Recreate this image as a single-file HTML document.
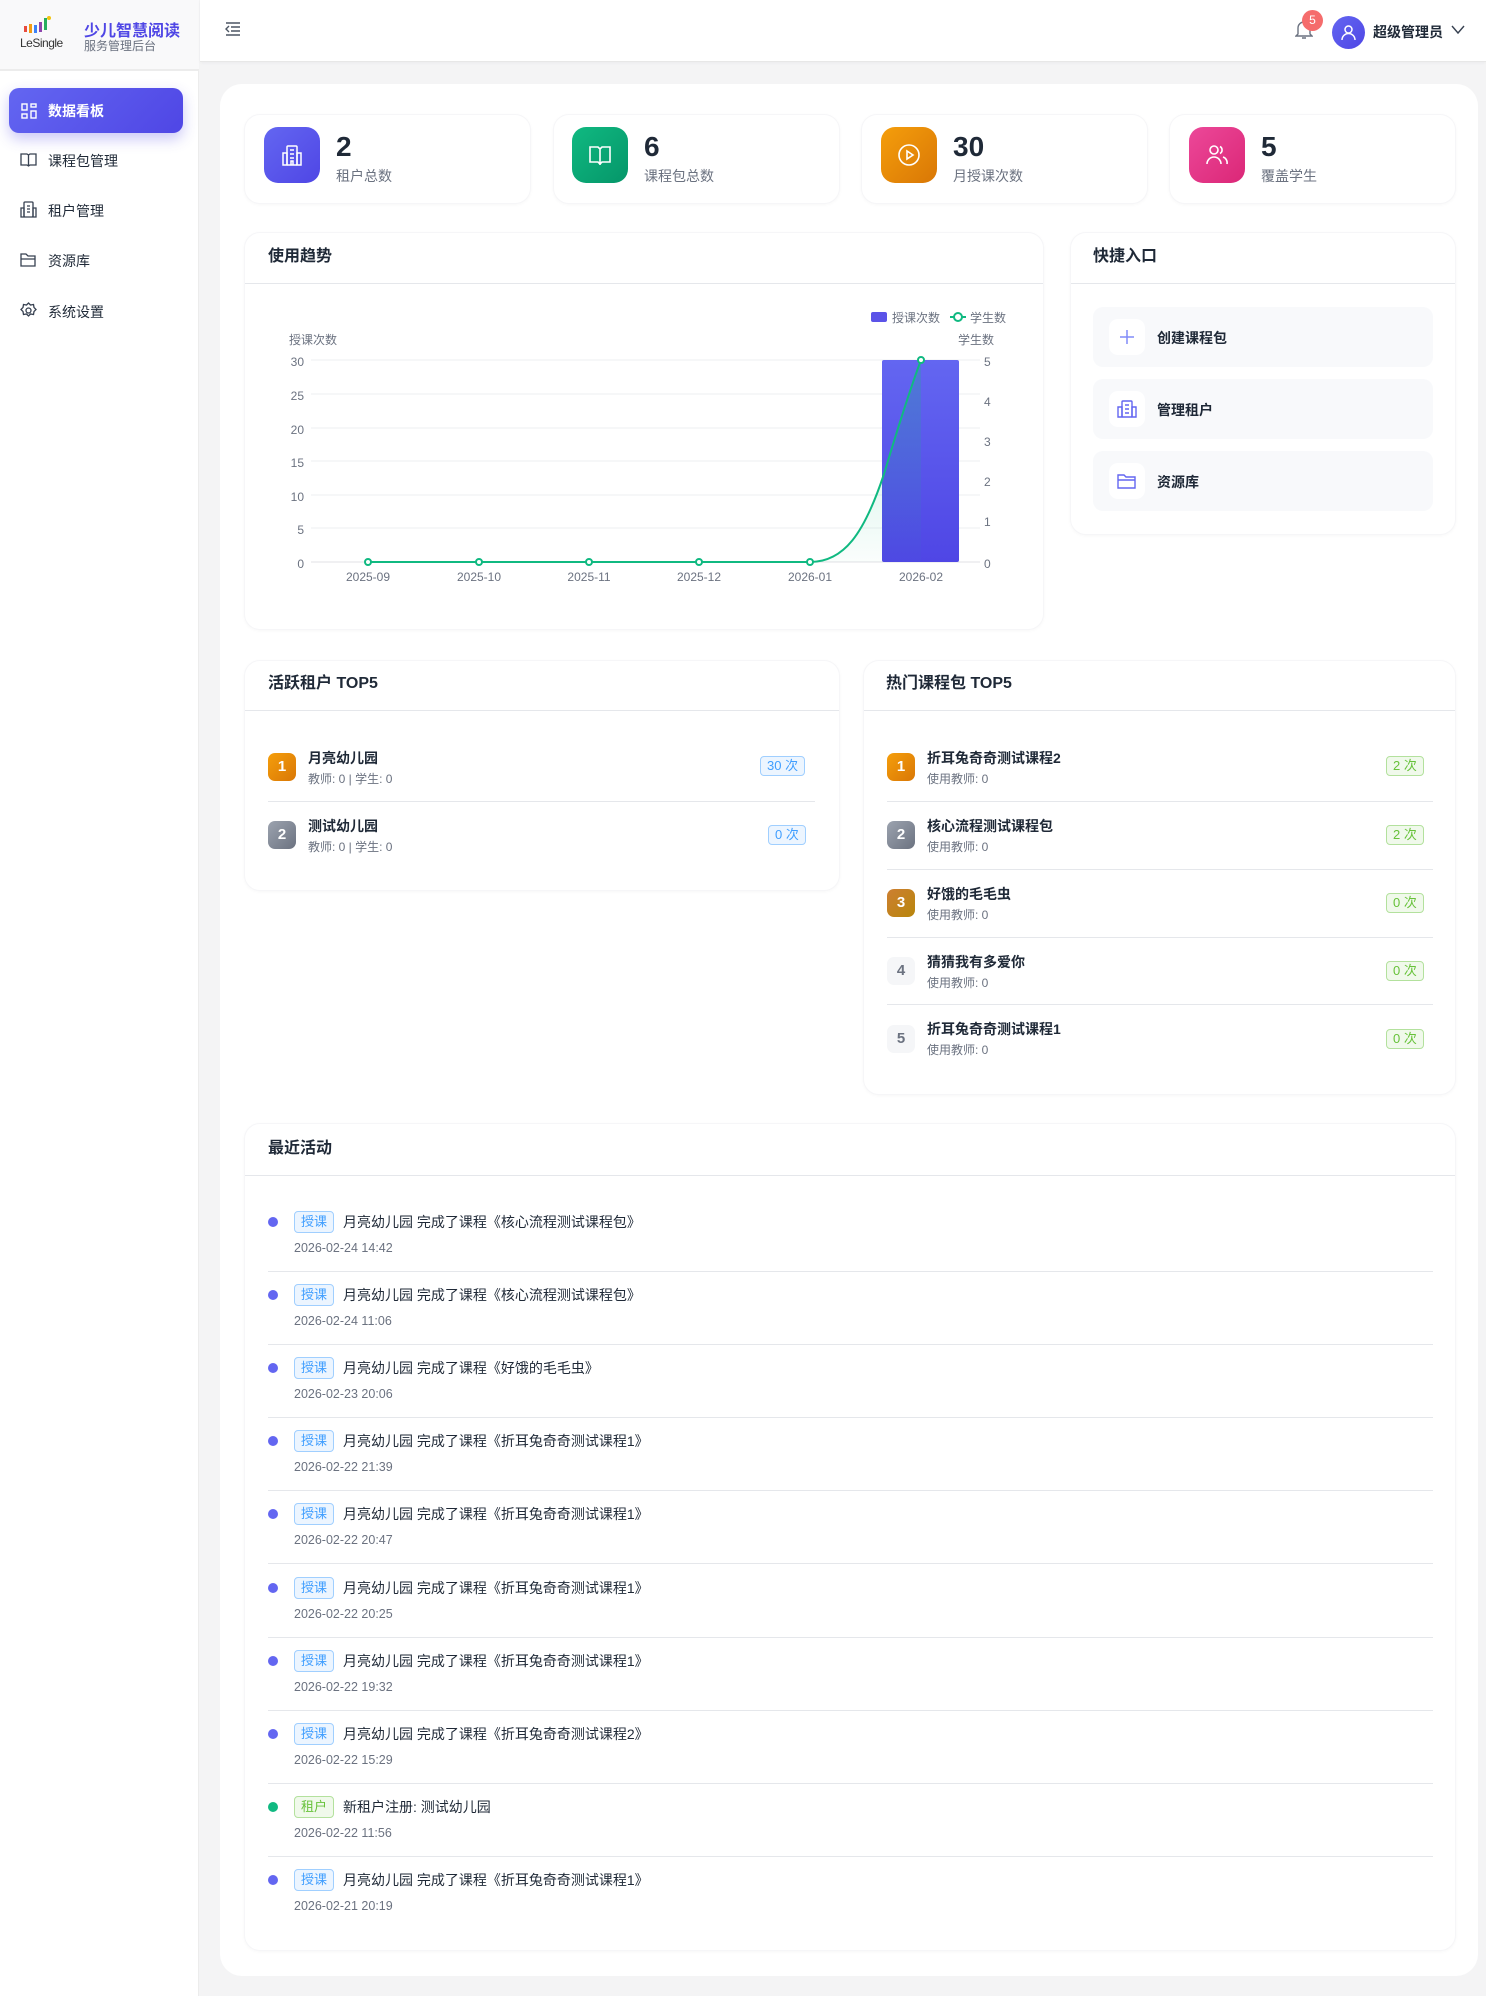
<!DOCTYPE html>
<html><head><meta charset="utf-8"><style>
*{margin:0;padding:0;box-sizing:border-box}
body{width:1486px;height:1996px;background:#f4f4f5;font-family:"Liberation Sans","Noto Sans CJK SC",sans-serif;color:#1f2937;position:relative;overflow:hidden}
.a{position:absolute}
.card{position:absolute;background:#fff;border-radius:16px;box-shadow:0 1px 3px rgba(0,0,0,.03);border:1px solid #f6f6f8}
.t{position:absolute;white-space:nowrap}
.ttl{position:absolute;font-size:16px;font-weight:bold;color:#1f2937}
.hr{position:absolute;height:1px;background:#e5e7eb}
.rk{position:absolute;width:28px;height:28px;border-radius:7px;color:#fff;font-size:15px;font-weight:bold;text-align:center;line-height:28px}
.tag{position:absolute;height:20px;border-radius:4px;font-size:13px;line-height:18px;padding:0 6px}
.bl{background:#ecf5ff;border:1px solid #a0cfff;color:#409eff}
.gr{background:#f0f9eb;border:1px solid #b3e19d;color:#67c23a}
.nm{font-size:14px;color:#1f2937;font-weight:bold}
.sub{font-size:12px;color:#6b7280}
</style></head><body>
<!-- sidebar -->
<div class="a" style="left:0;top:0;width:199px;height:1996px;background:#fff;border-right:1px solid #ececec"></div>
<div class="a" style="left:0;top:0;width:199px;height:71px;background:#f9f9fa;border-bottom:2px solid #ececec"></div>
<svg class="a" style="left:22px;top:14px" width="30" height="22"><rect x="2" y="12" width="3" height="6" fill="#e84c3d"/><rect x="7" y="10" width="3" height="9" fill="#f39c12"/><rect x="12" y="11" width="3" height="8" fill="#3b82f6"/><rect x="17" y="8" width="3" height="10" fill="#8e44ad"/><rect x="22" y="4" width="3" height="12" fill="#27ae60"/><circle cx="27" cy="4" r="2" fill="#f1c40f"/></svg>
<div class="t" style="left:20px;top:36px;font-size:12px;color:#333;letter-spacing:-.5px">LeSingle</div>
<div class="t" style="left:84px;top:17px;font-size:16px;color:#4f46e5;font-weight:bold">少儿智慧阅读</div>
<div class="t" style="left:84px;top:37px;font-size:12px;color:#6b7280">服务管理后台</div>
<div class="a" style="left:9px;top:88px;width:174px;height:45px;border-radius:10px;background:linear-gradient(135deg,#6366f1,#4f46e5);box-shadow:0 6px 14px rgba(79,70,229,.3)"></div>
<svg class="a" style="left:21px;top:103px" width="16" height="16" fill="none" stroke="#fff" stroke-width="1.4"><rect x="1" y="1" width="5" height="6"/><rect x="10" y="1" width="5" height="3"/><rect x="10" y="8" width="5" height="7"/><rect x="1" y="11" width="5" height="4"/></svg>
<div class="t" style="left:48px;top:101px;font-size:14px;color:#fff;font-weight:bold">数据看板</div>
<svg class="a" style="left:20px;top:152px" width="17" height="16" fill="none" stroke="#374151" stroke-width="1.3"><path d="M1 2h6l1.5 1 1.5-1h6v11h-6l-1.5 1-1.5-1h-6z M8.5 3v11"/></svg>
<div class="t" style="left:48px;top:151px;font-size:14px;color:#1f2937">课程包管理</div>
<svg class="a" style="left:20px;top:201px" width="17" height="17" fill="none" stroke="#374151" stroke-width="1.3"><rect x="4" y="1" width="9" height="15" rx="1"/><path d="M1 7h3v9H1zM13 7h3v9h-3z M7 5h3M7 8h3M7 11h3"/></svg>
<div class="t" style="left:48px;top:201px;font-size:14px;color:#1f2937">租户管理</div>
<svg class="a" style="left:20px;top:252px" width="17" height="16" fill="none" stroke="#374151" stroke-width="1.3"><path d="M1 2h5l2 2h7v10H1z M1 7h14"/></svg>
<div class="t" style="left:48px;top:251px;font-size:14px;color:#1f2937">资源库</div>
<svg class="a" style="left:20px;top:302px" width="17" height="17" fill="none" stroke="#374151" stroke-width="1.3"><circle cx="8.5" cy="8.5" r="2.5"/><path d="M8.5 1l2 2 3-.5.5 3 2 2-2 2-.5 3-3-.5-2 2-2-2-3 .5-.5-3-2-2 2-2 .5-3 3 .5z"/></svg>
<div class="t" style="left:48px;top:302px;font-size:14px;color:#1f2937">系统设置</div>
<!-- header -->
<div class="a" style="left:200px;top:0;width:1286px;height:62px;background:#fff;border-bottom:1px solid #e7e7e7;box-shadow:0 1px 3px rgba(0,0,0,.04)"></div>
<svg class="a" style="left:225px;top:22px" width="16" height="14" fill="none" stroke="#4b5563" stroke-width="1.4"><path d="M1 1h14M6 5h9M6 9h9M1 13h14M4 4L1 7l3 3"/></svg>
<svg class="a" style="left:1295px;top:20px" width="18" height="20" fill="none" stroke="#6b7280" stroke-width="1.4"><path d="M3 14V8a6 6 0 0 1 12 0v6l2 2H1z M7 18h4"/></svg>
<div class="a" style="left:1302px;top:10px;width:21px;height:21px;border-radius:50%;background:#f56c6c;color:#fff;font-size:12px;text-align:center;line-height:21px">5</div>
<div class="a" style="left:1332px;top:16px;width:33px;height:33px;border-radius:50%;background:linear-gradient(135deg,#6366f1,#4f46e5)"></div>
<svg class="a" style="left:1340px;top:24px" width="17" height="17" fill="none" stroke="#fff" stroke-width="1.5"><circle cx="8.5" cy="5.5" r="3.5"/><path d="M2 16a6.5 6.5 0 0 1 13 0"/></svg>
<div class="t" style="left:1373px;top:22px;font-size:14px;color:#1f2937;font-weight:bold">超级管理员</div>
<svg class="a" style="left:1451px;top:25px" width="14" height="10" fill="none" stroke="#374151" stroke-width="1.4"><path d="M1 1l6 7 6-7"/></svg>
<!-- main -->
<div class="a" style="left:220px;top:84px;width:1258px;height:1892px;background:#fff;border-radius:22px"></div>
<!-- stat cards -->
<div class="card" style="left:244px;top:114px;width:287px;height:90px"></div>
<div class="card" style="left:553px;top:114px;width:287px;height:90px"></div>
<div class="card" style="left:861px;top:114px;width:287px;height:90px"></div>
<div class="card" style="left:1169px;top:114px;width:287px;height:90px"></div>
<div class="a" style="left:264px;top:127px;width:56px;height:56px;border-radius:14px;background:linear-gradient(135deg,#6366f1,#4f46e5)"></div>
<svg class="a" style="left:281px;top:144px" width="22" height="22" fill="none" stroke="#fff" stroke-width="1.5"><rect x="6" y="2" width="10" height="19" rx="1"/><path d="M2 9h4v12H2zM16 9h4v12h-4zM9 6h4M9 10h4M9 14h4M10 21v-4h2v4"/></svg>
<div class="a" style="left:572px;top:127px;width:56px;height:56px;border-radius:14px;background:linear-gradient(135deg,#10b981,#059669)"></div>
<svg class="a" style="left:588px;top:145px" width="24" height="22" fill="none" stroke="#fff" stroke-width="1.6"><path d="M2 2h8l2 2 2-2h8v15h-8l-2 2-2-2H2z M12 4v16"/></svg>
<div class="a" style="left:881px;top:127px;width:56px;height:56px;border-radius:14px;background:linear-gradient(135deg,#f59e0b,#d97706)"></div>
<svg class="a" style="left:897px;top:143px" width="24" height="24" fill="none" stroke="#fff" stroke-width="1.6"><circle cx="12" cy="12" r="10"/><path d="M10 8l6 4-6 4z"/></svg>
<div class="a" style="left:1189px;top:127px;width:56px;height:56px;border-radius:14px;background:linear-gradient(135deg,#ec4899,#db2777)"></div>
<svg class="a" style="left:1205px;top:144px" width="24" height="22" fill="none" stroke="#fff" stroke-width="1.6"><circle cx="9" cy="6" r="4"/><path d="M2 20a7 7 0 0 1 14 0M15 2.5a4 4 0 0 1 0 7M18 13a6 6 0 0 1 4 7"/></svg>
<div class="t" style="left:336px;top:131px;font-size:28px;font-weight:bold;color:#1f2937">2</div>
<div class="t" style="left:336px;top:166px;font-size:14px;color:#6b7280">租户总数</div>
<div class="t" style="left:644px;top:131px;font-size:28px;font-weight:bold;color:#1f2937">6</div>
<div class="t" style="left:644px;top:166px;font-size:14px;color:#6b7280">课程包总数</div>
<div class="t" style="left:953px;top:131px;font-size:28px;font-weight:bold;color:#1f2937">30</div>
<div class="t" style="left:953px;top:166px;font-size:14px;color:#6b7280">月授课次数</div>
<div class="t" style="left:1261px;top:131px;font-size:28px;font-weight:bold;color:#1f2937">5</div>
<div class="t" style="left:1261px;top:166px;font-size:14px;color:#6b7280">覆盖学生</div>
<!-- trend -->
<div class="card" style="left:244px;top:232px;width:800px;height:398px"></div>
<div class="ttl" style="left:268px;top:242px">使用趋势</div>
<div class="hr" style="left:245px;top:283px;width:798px"></div>
<svg class="a" style="left:244px;top:284px" width="800" height="340" font-family="Liberation Sans, Noto Sans CJK SC, sans-serif" font-size="12" fill="#6b7280">
<defs><linearGradient id="bg" x1="0" y1="0" x2="0" y2="1"><stop offset="0" stop-color="#6366f1"/><stop offset="1" stop-color="#4f46e5"/></linearGradient>
<linearGradient id="ag" x1="0" y1="0" x2="0" y2="1"><stop offset="0" stop-color="#10b981" stop-opacity=".25"/><stop offset="1" stop-color="#10b981" stop-opacity=".02"/></linearGradient></defs>
<g stroke="#eeeff2" stroke-width="1">
<line x1="67" y1="76" x2="736" y2="76"/><line x1="67" y1="110" x2="736" y2="110"/><line x1="67" y1="144" x2="736" y2="144"/><line x1="67" y1="177" x2="736" y2="177"/><line x1="67" y1="211" x2="736" y2="211"/><line x1="67" y1="244" x2="736" y2="244"/></g>
<line x1="67" y1="278" x2="736" y2="278" stroke="#e0e0e4"/>
<g text-anchor="end"><text x="60" y="82">30</text><text x="60" y="116">25</text><text x="60" y="150">20</text><text x="60" y="183">15</text><text x="60" y="217">10</text><text x="60" y="250">5</text><text x="60" y="284">0</text></g>
<g><text x="740" y="82">5</text><text x="740" y="122">4</text><text x="740" y="162">3</text><text x="740" y="202">2</text><text x="740" y="242">1</text><text x="740" y="284">0</text></g>
<text x="45" y="60">授课次数</text><text x="714" y="60">学生数</text>
<g text-anchor="middle"><text x="124" y="297">2025-09</text><text x="235" y="297">2025-10</text><text x="345" y="297">2025-11</text><text x="455" y="297">2025-12</text><text x="566" y="297">2026-01</text><text x="677" y="297">2026-02</text></g>
<rect x="638" y="76" width="77" height="202" rx="2" fill="url(#bg)"/>
<path d="M566 278 C600 278 620 250 640 190 C655 140 668 100 677 76 L677 278 Z" fill="url(#ag)"/>
<path d="M124 278 L566 278 C600 278 620 250 640 190 C655 140 668 100 677 76" fill="none" stroke="#10b981" stroke-width="2"/>
<g fill="#fff" stroke="#10b981" stroke-width="2"><circle cx="124" cy="278" r="3"/><circle cx="235" cy="278" r="3"/><circle cx="345" cy="278" r="3"/><circle cx="455" cy="278" r="3"/><circle cx="566" cy="278" r="3"/><circle cx="677" cy="76" r="3"/></g>
<rect x="627" y="28" width="16" height="10" rx="2" fill="#5b53e8"/><text x="648" y="38">授课次数</text>
<line x1="706" y1="33" x2="722" y2="33" stroke="#10b981" stroke-width="2"/><circle cx="714" cy="33" r="4" fill="#fff" stroke="#10b981" stroke-width="2"/><text x="726" y="38">学生数</text>
</svg>
<!-- quick -->
<div class="card" style="left:1070px;top:232px;width:386px;height:303px"></div>
<div class="ttl" style="left:1093px;top:242px">快捷入口</div>
<div class="hr" style="left:1071px;top:283px;width:384px"></div>
<div class="a" style="left:1093px;top:307px;width:340px;height:60px;border-radius:10px;background:#f8f9fb"></div>
<div class="a" style="left:1093px;top:379px;width:340px;height:60px;border-radius:10px;background:#f8f9fb"></div>
<div class="a" style="left:1093px;top:451px;width:340px;height:60px;border-radius:10px;background:#f8f9fb"></div>
<div class="a" style="left:1109px;top:319px;width:36px;height:36px;border-radius:9px;background:#fff"></div>
<div class="a" style="left:1109px;top:391px;width:36px;height:36px;border-radius:9px;background:#fff"></div>
<div class="a" style="left:1109px;top:463px;width:36px;height:36px;border-radius:9px;background:#fff"></div>
<svg class="a" style="left:1119px;top:329px" width="16" height="16" stroke="#818cf8" stroke-width="1.5"><path d="M8 1v14M1 8h14"/></svg>
<svg class="a" style="left:1117px;top:400px" width="20" height="18" fill="none" stroke="#6366f1" stroke-width="1.4"><rect x="5" y="1" width="10" height="16" rx="1"/><path d="M1 7h4v10H1zM15 7h4v10h-4zM8 5h4M8 9h4M8 13h4"/></svg>
<svg class="a" style="left:1117px;top:473px" width="20" height="17" fill="none" stroke="#6366f1" stroke-width="1.4"><path d="M1 2h6l2 2h9v11H1z M1 7h17"/></svg>
<div class="t" style="left:1157px;top:328px;font-size:14px;color:#1f2937;font-weight:bold">创建课程包</div>
<div class="t" style="left:1157px;top:400px;font-size:14px;color:#1f2937;font-weight:bold">管理租户</div>
<div class="t" style="left:1157px;top:472px;font-size:14px;color:#1f2937;font-weight:bold">资源库</div>
<!-- active tenants -->
<div class="card" style="left:244px;top:660px;width:596px;height:231px"></div>
<div class="ttl" style="left:268px;top:669px">活跃租户 TOP5</div>
<div class="hr" style="left:245px;top:710px;width:594px"></div>
<div class="rk" style="left:268px;top:753px;background:linear-gradient(135deg,#f59e0b,#d97706)">1</div>
<div class="t nm" style="left:308px;top:748px">月亮幼儿园</div>
<div class="t sub" style="left:308px;top:770px">教师: 0 | 学生: 0</div>
<div class="tag bl" style="left:760px;top:756px">30 次</div>
<div class="hr" style="left:268px;top:801px;width:547px"></div>
<div class="rk" style="left:268px;top:821px;background:linear-gradient(135deg,#9ca3af,#6b7280)">2</div>
<div class="t nm" style="left:308px;top:816px">测试幼儿园</div>
<div class="t sub" style="left:308px;top:838px">教师: 0 | 学生: 0</div>
<div class="tag bl" style="left:768px;top:825px">0 次</div>
<!-- hot courses -->
<div class="card" style="left:863px;top:660px;width:593px;height:435px"></div>
<div class="ttl" style="left:886px;top:669px">热门课程包 TOP5</div>
<div class="hr" style="left:864px;top:710px;width:591px"></div>
<div class="rk" style="left:887px;top:753px;background:linear-gradient(135deg,#f59e0b,#d97706)">1</div>
<div class="t nm" style="left:927px;top:748px">折耳兔奇奇测试课程2</div>
<div class="t sub" style="left:927px;top:770px">使用教师: 0</div>
<div class="tag gr" style="left:1386px;top:756px">2 次</div>
<div class="hr" style="left:887px;top:801px;width:546px"></div>
<div class="rk" style="left:887px;top:821px;background:linear-gradient(135deg,#9ca3af,#6b7280)">2</div>
<div class="t nm" style="left:927px;top:816px">核心流程测试课程包</div>
<div class="t sub" style="left:927px;top:838px">使用教师: 0</div>
<div class="tag gr" style="left:1386px;top:825px">2 次</div>
<div class="hr" style="left:887px;top:869px;width:546px"></div>
<div class="rk" style="left:887px;top:889px;background:linear-gradient(135deg,#cd7f32,#b8860b)">3</div>
<div class="t nm" style="left:927px;top:884px">好饿的毛毛虫</div>
<div class="t sub" style="left:927px;top:906px">使用教师: 0</div>
<div class="tag gr" style="left:1386px;top:893px">0 次</div>
<div class="hr" style="left:887px;top:937px;width:546px"></div>
<div class="rk" style="left:887px;top:957px;background:#f5f6f8;color:#6b7280">4</div>
<div class="t nm" style="left:927px;top:952px">猜猜我有多爱你</div>
<div class="t sub" style="left:927px;top:974px">使用教师: 0</div>
<div class="tag gr" style="left:1386px;top:961px">0 次</div>
<div class="hr" style="left:887px;top:1004px;width:546px"></div>
<div class="rk" style="left:887px;top:1025px;background:#f5f6f8;color:#6b7280">5</div>
<div class="t nm" style="left:927px;top:1019px">折耳兔奇奇测试课程1</div>
<div class="t sub" style="left:927px;top:1041px">使用教师: 0</div>
<div class="tag gr" style="left:1386px;top:1029px">0 次</div>
<!-- recent activity -->
<div class="card" style="left:244px;top:1123px;width:1212px;height:828px"></div>
<div class="ttl" style="left:268px;top:1134px">最近活动</div>
<div class="hr" style="left:245px;top:1175px;width:1210px"></div>
<div id="acts"></div>
<script>
var d=[["授课","月亮幼儿园 完成了课程《核心流程测试课程包》","2026-02-24 14:42"],["授课","月亮幼儿园 完成了课程《核心流程测试课程包》","2026-02-24 11:06"],["授课","月亮幼儿园 完成了课程《好饿的毛毛虫》","2026-02-23 20:06"],["授课","月亮幼儿园 完成了课程《折耳兔奇奇测试课程1》","2026-02-22 21:39"],["授课","月亮幼儿园 完成了课程《折耳兔奇奇测试课程1》","2026-02-22 20:47"],["授课","月亮幼儿园 完成了课程《折耳兔奇奇测试课程1》","2026-02-22 20:25"],["授课","月亮幼儿园 完成了课程《折耳兔奇奇测试课程1》","2026-02-22 19:32"],["授课","月亮幼儿园 完成了课程《折耳兔奇奇测试课程2》","2026-02-22 15:29"],["租户","新租户注册: 测试幼儿园","2026-02-22 11:56"],["授课","月亮幼儿园 完成了课程《折耳兔奇奇测试课程1》","2026-02-21 20:19"]];
var h="";for(var i=0;i<d.length;i++){var y=1222+i*73.1;var g=d[i][0]=="租户";
h+='<div class="a" style="left:268px;top:'+(y-5)+'px;width:10px;height:10px;border-radius:50%;background:'+(g?'#10b981':'#6366f1')+'"></div>';
h+='<div class="tag '+(g?'gr':'bl')+'" style="left:294px;top:'+(y-11)+'px;height:22px;line-height:20px">'+d[i][0]+'</div>';
h+='<div class="t" style="left:343px;top:'+(y-10)+'px;font-size:14px;color:#1f2937">'+d[i][1]+'</div>';
h+='<div class="t" style="left:294px;top:'+(y+19)+'px;font-size:12.5px;color:#6b7280">'+d[i][2]+'</div>';
if(i<9)h+='<div class="hr" style="left:268px;top:'+(y+49)+'px;width:1165px"></div>';}
document.getElementById("acts").innerHTML=h;
</script>
</body></html>
